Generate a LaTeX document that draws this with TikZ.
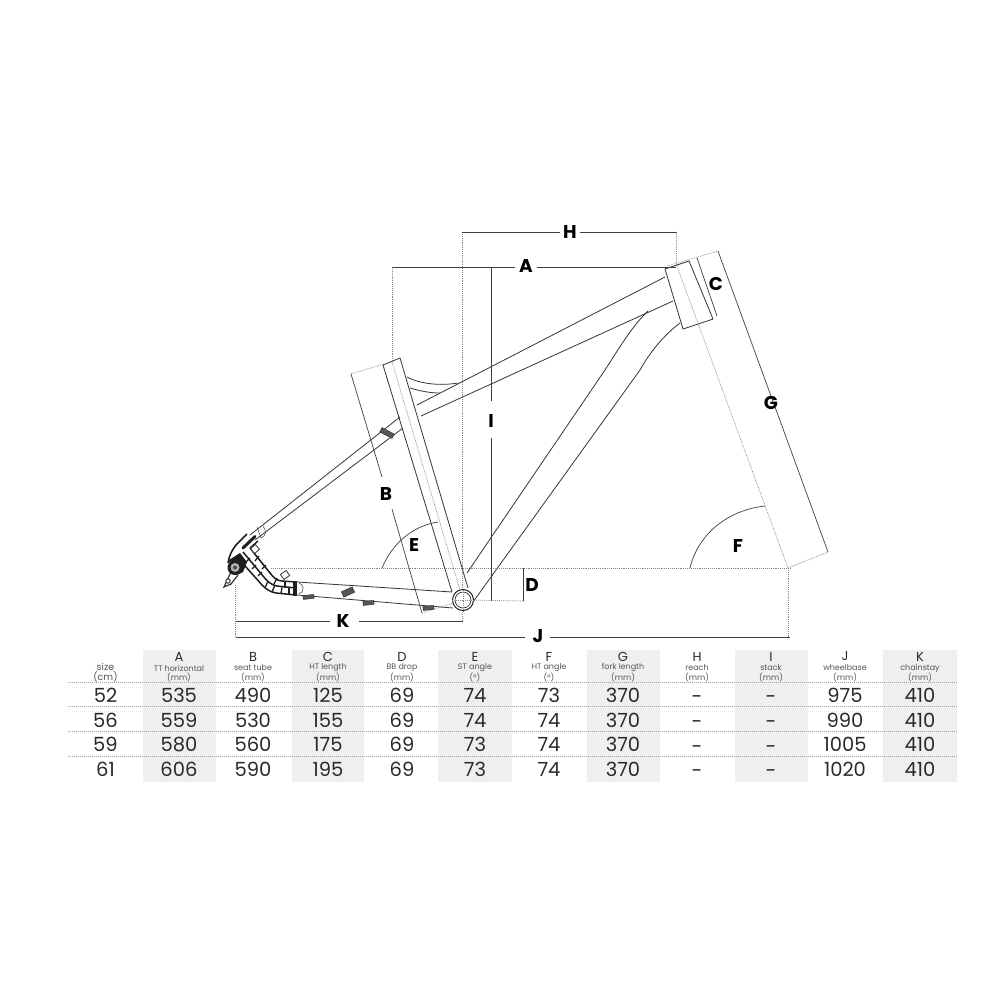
\documentclass[tikz,border=0pt]{standalone}
\usepackage{fontspec}
\setmainfont{Poppins}
\definecolor{ink}{HTML}{1E1E1E}
\definecolor{tblgrey}{HTML}{EFEFEF}
\definecolor{txt}{HTML}{2A2A2A}
\definecolor{subt}{HTML}{555555}
\definecolor{dotc}{HTML}{8A8A8A}
\tikzset{
 tube/.style={draw=ink!90,line width=0.8pt},
 dim/.style={draw=ink!85,line width=0.7pt},
 dotline/.style={draw=dotc,line width=0.7pt,dash pattern=on 0.9pt off 1pt},
 rowrule/.style={draw=dotc!80,line width=0.9pt,dash pattern=on 1pt off 1pt},
 letter/.style={font=\fontsize{18.5}{19}\selectfont\bfseries,text=black,inner sep=0pt},
 val/.style={font=\fontsize{19.5}{20}\selectfont,text=txt,inner sep=0pt},
 headl/.style={font=\fontsize{13}{13}\selectfont,text=txt,inner sep=0pt},
 headt/.style={font=\fontsize{8}{8}\selectfont,text=subt,inner sep=0pt},
 guide/.style={fill=ink!75,draw=ink,line width=0.3pt},
 dropline/.style={draw=ink,line width=1.5pt,line join=round},
 rung/.style={draw=ink,line width=1.3pt},
}
\begin{document}
\begin{tikzpicture}[x=1pt,y=-1pt]
\useasboundingbox (0,0) rectangle (1000,1000);
\fill[white] (0,0) rectangle (1000,1000);
% table shading
\foreach \a/\b in {143/216,292/364,438/512,587/660,735/808,883/957}
  \fill[tblgrey] (\a,650) rectangle (\b,782);
% coordinates
\coordinate (bb) at (463,600);
\coordinate (htA) at (665,269);
\coordinate (htB) at (689,261);
\coordinate (htC) at (713,319);
\coordinate (htD) at (683,329);
% dotted construction lines
\draw[dotline] (271,568) -- (790,568);
\draw[dotline] (bb) -- (525,601);
\draw[dotline] (462,232) -- (462,621);
\draw[dotline] (392,267) -- (392,362);
\draw[dotline] (392,362) -- (bb);
\draw[dotline] (351,374) -- (384,364);
\draw[dotline] (422,613) -- (bb);
\draw[dotline] (676.5,232) -- (676.5,265) -- (788,568);
\draw[dotline] (667,266) -- (718,251);
\draw[dotline] (788,568) -- (828,552);
\draw[dotline] (788,568) -- (788,638);
\draw[dotline] (235.5,585) -- (235.5,638);
% frame: top tube / seat stay
\draw[tube] (665,277) -- (417,405);
\draw[tube] (673,301) -- (421,416);
\draw[tube] (400,417) -- (250,535);
\draw[tube] (403,428) -- (255,540);
% gussets
\draw[tube] (407,377) .. controls (420,384) and (440,386) .. (458,383);
\draw[tube] (410,388) .. controls (420,391) and (430,393) .. (440,393);
% down tube
\draw[tube] (467,573) -- (605,370) .. controls (618,350) and (632,326) .. (648,311);
\draw[tube] (473,602) -- (640,370) .. controls (650,352) and (664,335) .. (680,323);
% seat tube
\draw[tube] (383,365) -- (400,358) -- (468,588);
\draw[tube] (383,365) -- (452,592);
% head tube
\draw[tube] (htA) -- (htB) -- (htC) -- (htD) -- cycle;
% chain stay
\draw[tube] (297,582) -- (452,592);
\draw[tube] (297,595) -- (453,608);
% BB
\fill[white] (bb) circle (11);
\draw[draw=ink,line width=1pt] (bb) circle (10.5);
\draw[draw=ink,line width=0.6pt] (bb) circle (8);
\draw[dotline] (463,590) -- (463,611);
\draw[dotline] (452,600.5) -- (474,600.5);
% guides
\fill[guide,rotate around={-28:(387,433)}] (380,430.5) rectangle (394,435.5);
\fill[guide,rotate around={25:(348,592)}] (342,589) rectangle (354,595);
\fill[guide,rotate around={6:(308,597)}] (303,595) rectangle (314,599);
\fill[guide,rotate around={6:(368,603)}] (363,601) rectangle (374,605);
\fill[guide,rotate around={6:(428,608)}] (423,606) rectangle (434,610);
% small arcs near the ends of tubes
\draw[tube,line width=.5pt] (257,527) -- (261,538) .. controls (266,536) and (267,531) .. (263,526);
\draw[tube,line width=.5pt] (299,583) .. controls (304,584) and (305,592) .. (299,594);
% dropout: three long lines
\draw[dropline] (238,558) -- (262,585) .. controls (266,589) and (270,592) .. (276,593) -- (296,595);
\draw[dropline] (243,552) -- (263,576) .. controls (267,581) and (271,585) .. (277,586) -- (296,588);
\draw[dropline] (250,548) -- (270,573) .. controls (273,577) and (277,581) .. (282,581) -- (296,582);
% rungs
\foreach \a/\b/\c/\d in {246/562/250/558, 252/569/256/565, 258/576/262/572, 265/588/268/581, 272/592/275/585, 281/594/282/587, 289/595/289/588,
                         255/561/259/556, 262/569/266/565, 274/584/277/578, 285/588/285/582}
  \draw[rung] (\a,\b) -- (\c,\d);
\fill[ink] (293,581) rectangle (297,596);
% clamp at the top of the stay
\draw[ink,line width=3pt,line cap=round] (255,536.5) -- (243,548);
\draw[ink,line width=1.6pt] (247,534) -- (236,545) .. controls (232,550) and (229,556) .. (228,563);
\draw[ink,line width=1.4pt] (258,541) -- (250,548);
\draw[tube,fill=white,rotate around={40:(255,549)}] (251.8,545.8) rectangle (258.2,552.2);
\draw[tube,fill=white,rotate around={35:(285,575)}] (281.5,572) rectangle (288.5,578);
% dropout plate
\fill[ink] (229,560) -- (240,553) -- (247,562) -- (243,572) -- (233,577) -- cycle;
\draw[tube,line width=1.2pt,fill=white] (231,572) -- (224,587) -- (231,584) -- (238,575);
\draw[tube,line width=1pt,fill=white] (228,581) circle (2.2);
\fill[ink] (235,567.5) circle (7.5);
\fill[black!30] (235,567.5) circle (4.5);
\fill[ink!80] (235,567.5) circle (2);
% dimension lines
\draw[dim] (462,232) -- (560,232) (580,232) -- (677,232);
\draw[dim] (392,267) -- (515,267) (537,267) -- (676,267);
\draw[dim] (491,267) -- (491,401) (491,438) -- (491,601);
\draw[dim] (351,374) -- (382,477) (392,509) -- (422,613);
\draw[dim] (697,258) -- (717,316);
\draw[dim] (718,251) -- (828,552);
\draw[dim] (523,568) -- (523,601);
\draw[dim] (235.5,621) -- (330,621) (359,621) -- (463,621);
\draw[dim] (235.5,637.5) -- (525,637.5) (550,637.5) -- (790,637.5);
\draw[dim] (382,568) .. controls (392,544) and (412,526) .. (438,522);
\draw[dim] (690,568) .. controls (698,534) and (728,510) .. (765,506);
% letters
\node[letter] (lA) at (526,266) {A};
\node[letter] (lB) at (386,494) {B};
\node[letter] (lC) at (716,284) {C};
\node[letter] (lD) at (532,585) {D};
\node[letter] (lE) at (414,545) {E};
\node[letter] (lF) at (738,546) {F};
\node[letter] (lG) at (771,403) {G};
\node[letter] (lH) at (570,232) {H};
\node[letter] (lI) at (491,421) {I};
\node[letter] (lJ) at (538,636) {J};
\node[letter] (lK) at (343,621) {K};
% table rules
\draw[rowrule] (68,682) -- (957,682);
\draw[rowrule] (68,706.5) -- (957,706.5);
\draw[rowrule] (68,731.5) -- (957,731.5);
\draw[rowrule] (68,756) -- (957,756);
% table head
\node[font=\fontsize{9.5}{9.5}\selectfont,text=subt,inner sep=0pt] (hs1) at (105.5,666.5) {size};
\node[font=\fontsize{9.5}{9.5}\selectfont,text=subt,inner sep=0pt] (hs2) at (105.5,677) {(cm)};
\foreach \x/\l/\t/\u in {179/A/TT horizontal/(mm),253/B/seat tube/(mm),328/C/HT length/(mm),402/D/BB drop/(mm),475/E/ST angle/(°),549/F/HT angle/(°),623/G/fork length/(mm),697/H/reach/(mm),771/I/stack/(mm),845/J/wheelbase/(mm),920/K/chainstay/(mm)}{
  \node[headl] at (\x,656.5) {\l};
  \node[headt] at (\x,668) {\t};
  \node[headt] at (\x,677.5) {\u};
}
% table values
\foreach \y/\s/\a/\b/\c/\d/\e/\f/\g/\j/\k in {
 695/52/535/490/125/69/74/73/370/975/410,
 720/56/559/530/155/69/74/74/370/990/410,
 744.5/59/580/560/175/69/73/74/370/1005/410,
 769/61/606/590/195/69/73/74/370/1020/410}{
  \node[val] at (105.5,\y) {\s};
  \node[val] at (179,\y) {\a};
  \node[val] at (253,\y) {\b};
  \node[val] at (328,\y) {\c};
  \node[val] at (402,\y) {\d};
  \node[val] at (475,\y) {\e};
  \node[val] at (549,\y) {\f};
  \node[val] at (623,\y) {\g};
  \node[val] at (697,\y+5) {-};
  \node[val] at (771,\y+5) {-};
  \node[val] at (845,\y) {\j};
  \node[val] at (920,\y) {\k};
}
\end{tikzpicture}
\end{document}
